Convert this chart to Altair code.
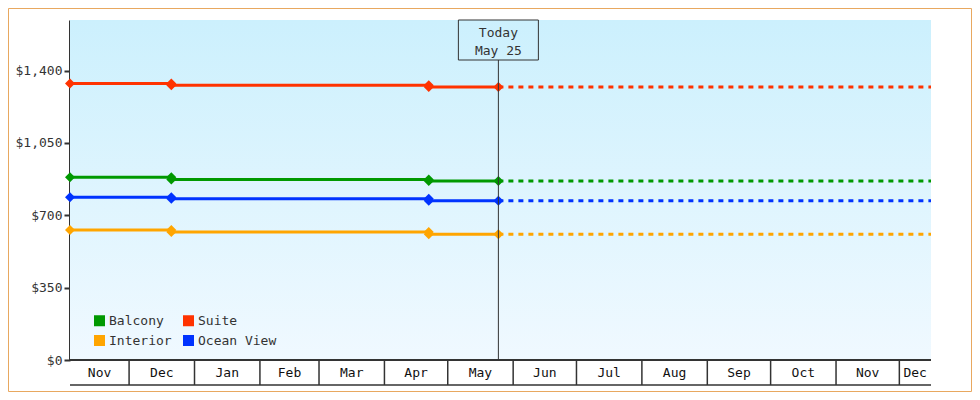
import altair as alt
import pandas as pd

# cabin price history (step changes) and today's marker
series = ["Balcony", "Suite", "Interior", "Ocean View"]
colors = ["#009900", "#ff3300", "#ffa500", "#0033ff"]

change_dates = ["2022-11-03", "2022-12-21", "2023-04-22", "2023-05-25"]
balcony = [884, 873, 866, 866]
suite = [1338, 1329, 1321, 1321]
interior = [629, 619, 609, 609]
ocean_view = [788, 780, 770, 770]

today = "2023-05-25"
today_text = "Today\nMay 25"
range_start = "2022-11-03"
range_end = "2023-12-16"

month_labels = ["Nov", "Dec", "Jan", "Feb", "Mar", "Apr", "May",
                "Jun", "Jul", "Aug", "Sep", "Oct", "Nov", "Dec"]
month_starts = ["2022-11-03", "2022-12-01", "2023-01-01", "2023-02-01", "2023-03-01",
                "2023-04-01", "2023-05-01", "2023-06-01", "2023-07-01", "2023-08-01",
                "2023-09-01", "2023-10-01", "2023-11-01", "2023-12-01"]
y_ticks = [0, 350, 700, 1050, 1400]

FONT = "DejaVu Sans Mono"
INK = "#333333"

values = {"Balcony": balcony, "Suite": suite, "Interior": interior, "Ocean View": ocean_view}
dates = pd.to_datetime(change_dates)

# solid history lines, dashed projection, diamond markers
hist_rows, future_rows, marker_rows = [], [], []
for name in series:
    v = values[name]
    for i, d in enumerate(dates):
        hist_rows.append({"date": d, "price": v[i], "series": name})
        marker_rows.append({"date": d, "price": v[i], "series": name})
        if i > 0 and v[i] != v[i - 1]:
            marker_rows.append({"date": d, "price": v[i - 1], "series": name})
    future_rows.append({"date": pd.Timestamp(today), "price": v[-1], "series": name})
    future_rows.append({"date": pd.Timestamp(range_end), "price": v[-1], "series": name})
hist = pd.DataFrame(hist_rows)
future = pd.DataFrame(future_rows)
markers = pd.DataFrame(marker_rows)

starts = pd.to_datetime(month_starts)
ends = list(starts[1:]) + [pd.Timestamp(range_end)]
months = pd.DataFrame({"label": month_labels, "start": starts, "end": ends})
months["mid"] = months["start"] + (months["end"] - months["start"]) / 2
bounds = months.iloc[1:]

today_df = pd.DataFrame({"date": [pd.Timestamp(today)], "text": [today_text]})
one = pd.DataFrame({"k": [0]})


def dt(s):
    t = pd.Timestamp(s)
    return alt.DateTime(year=t.year, month=t.month, date=t.day)


x_scale = alt.Scale(domain=[dt(range_start), dt(range_end)])
y_scale = alt.Scale(domain=[0, 1645], nice=False)
color_scale = alt.Scale(domain=series, range=colors)

W, H = 861, 340

bg = alt.Chart(one).mark_rect(
    fill=alt.Gradient(gradient="linear", x1=0, x2=0, y1=0, y2=1,
                      stops=[alt.GradientStop(color="#ccf0fd", offset=0),
                             alt.GradientStop(color="#f0f9ff", offset=1)])
).encode(x=alt.value(0), x2=alt.value("width"), y=alt.value(0), y2=alt.value("height"))

frame = alt.Chart(one).mark_rect(fill="transparent", stroke="#e8a860", strokeWidth=1).encode(
    x=alt.value(-61.5), x2=alt.value(901.5), y=alt.value(-11.5), y2=alt.value(371.5))

hist_lines = alt.Chart(hist).mark_line(interpolate="step-after", strokeWidth=3).encode(
    x=alt.X("date:T", scale=x_scale, axis=None),
    y=alt.Y("price:Q", scale=y_scale,
            axis=alt.Axis(values=y_ticks, format="$,.0f", title=None)),
    color=alt.Color("series:N", scale=color_scale, legend=None),
)

future_lines = alt.Chart(future).mark_line(strokeWidth=3, strokeDash=[5, 5]).encode(
    x="date:T", y="price:Q",
    color=alt.Color("series:N", scale=color_scale, legend=None),
)

points = alt.Chart(markers).mark_point(shape="diamond", filled=True, size=100, opacity=1).encode(
    x="date:T", y="price:Q",
    color=alt.Color("series:N", scale=color_scale,
                    legend=alt.Legend(title=None, orient="none", legendX=23, legendY=294,
                                      direction="horizontal", columns=2,
                                      symbolType="square", symbolSize=121,
                                      symbolStrokeWidth=0, labelFont=FONT, labelFontSize=13,
                                      labelColor=INK, labelOffset=3, columnPadding=10,
                                      rowPadding=6, padding=0)),
)

today_rule = alt.Chart(today_df).mark_rule(color=INK, strokeWidth=1).encode(
    x="date:T", y=alt.value(40), y2=alt.value("height"))
today_box = alt.Chart(today_df).mark_rect(
    fill="transparent", stroke=INK, strokeWidth=1, xOffset=-40, x2Offset=40
).encode(x="date:T", x2="date:T", y=alt.value(0), y2=alt.value(40))
today_label = alt.Chart(today_df).mark_text(
    font=FONT, fontSize=13, color=INK, lineBreak="\n", lineHeight=18, baseline="middle"
).encode(x="date:T", y=alt.value(13), text="text:N")

# month strip below the plot
strip_top = alt.Chart(one).mark_rule(color=INK, strokeWidth=2).encode(
    x=alt.value(0), x2=alt.value("width"), y=alt.value(H))
strip_bottom = alt.Chart(one).mark_rule(color=INK, strokeWidth=1.5).encode(
    x=alt.value(0), x2=alt.value("width"), y=alt.value(H + 25))
strip_sep = alt.Chart(bounds).mark_rule(color=INK, strokeWidth=1.5).encode(
    x="start:T", y=alt.value(H), y2=alt.value(H + 25))
strip_text = alt.Chart(months).mark_text(font=FONT, fontSize=13, color="#111111", baseline="middle").encode(
    x="mid:T", y=alt.value(H + 13), text="label:N")

chart = alt.layer(
    bg, hist_lines, future_lines, points, today_rule, today_box, today_label,
    strip_top, strip_bottom, strip_sep, strip_text, frame,
).resolve_legend(color="independent").properties(
    width=W, height=H,
    background="white",
    autosize=alt.AutoSizeParams(type="none"),
    padding={"left": 62, "top": 12, "right": 41, "bottom": 32},
).configure_view(stroke=None).configure_axis(
    labelFont=FONT, labelFontSize=13, labelColor=INK, domainColor=INK, domainWidth=3,
    tickColor=INK, tickWidth=2, tickSize=6, labelPadding=2, grid=False,
)

chart.save("out.html", embed_options={"renderer": "svg", "actions": False})
